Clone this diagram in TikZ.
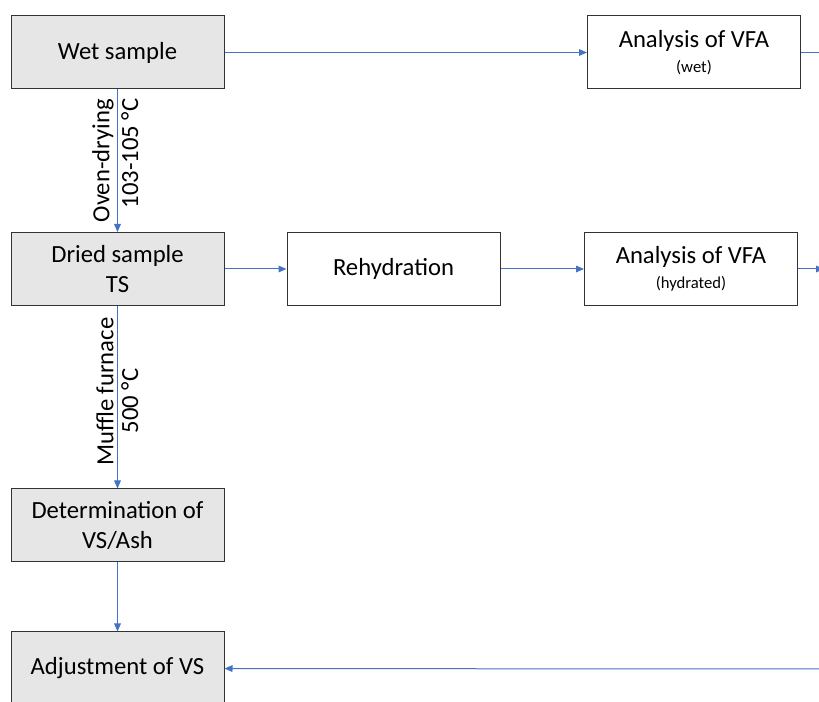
\documentclass[tikz,border=0pt]{standalone}
\usepackage{fontspec}
\setmainfont{Carlito}
\usetikzlibrary{arrows.meta, positioning}
\definecolor{flowblue}{HTML}{4472C4}
\definecolor{boxgray}{HTML}{E6E6E6}
\newcommand{\subtxt}[1]{{\fontsize{12.5}{14}\selectfont #1}}

\begin{document}
\begin{tikzpicture}[x=0.75pt,y=-0.75pt,>={Triangle[length=6pt,width=5pt]},font=\fontsize{18.5}{23}\selectfont]
    \tikzstyle{box}=[rectangle, draw=black!80, line width=0.75pt, minimum width=159.75pt, minimum height=54.75pt, inner sep=2pt, align=center]
    \tikzstyle{sample box}=[box, fill=boxgray]
    \tikzstyle{white box}=[box, fill=white]
    \tikzstyle{flow}=[->, draw=flowblue, line width=0.75pt]
    \tikzstyle{cond}=[rotate=90, inner sep=2.5pt]

    \useasboundingbox (0,0) rectangle (819,702);
    \clip (0,0) rectangle (819,702);

    % left column: the sample
    \node[sample box] (wet) at (117.5,52.5) {Wet sample};
    \node[sample box] (dried) at (117.5,269) {Dried sample\\TS};
    \node[sample box] (det) at (117.5,525.5) {Determination of\\VS/Ash};
    \node[sample box] (adj) at (117.5,668.5) {Adjustment of VS};

    % analyses
    \node[white box] (vfa-wet) at (694,52.5) {Analysis of VFA\\[-4pt]\subtxt{(wet)}};
    \node[white box] (rehyd) at (393.5,269) {Rehydration};
    \node[white box] (vfa-hyd) at (691,269) {Analysis of VFA\\[-4pt]\subtxt{(hydrated)}};

    % ends running off the page
    \coordinate (wet-out) at (830,52.5);
    \coordinate (hyd-out) at (824,269);
    \coordinate (adj-in) at (830,669);

    \foreach \src/\dst in {wet/vfa-wet, dried/rehyd, rehyd/vfa-hyd, vfa-hyd/hyd-out, det/adj, adj-in/adj}
        \draw[flow] (\src) -- (\dst);
    \draw[flow,-] (vfa-wet) -- (wet-out);

    \draw[flow] (wet) -- node[cond, above] (ov) {Oven-drying} node[cond, below, pos=0.45] (ovt) {103-105 °C} (dried);
    \draw[flow] (dried) -- node[cond, above, pos=0.47] (mf) {Muffle furnace} node[cond, below, pos=0.52] (mft) {500 °C} (det);
\end{tikzpicture}
\end{document}
